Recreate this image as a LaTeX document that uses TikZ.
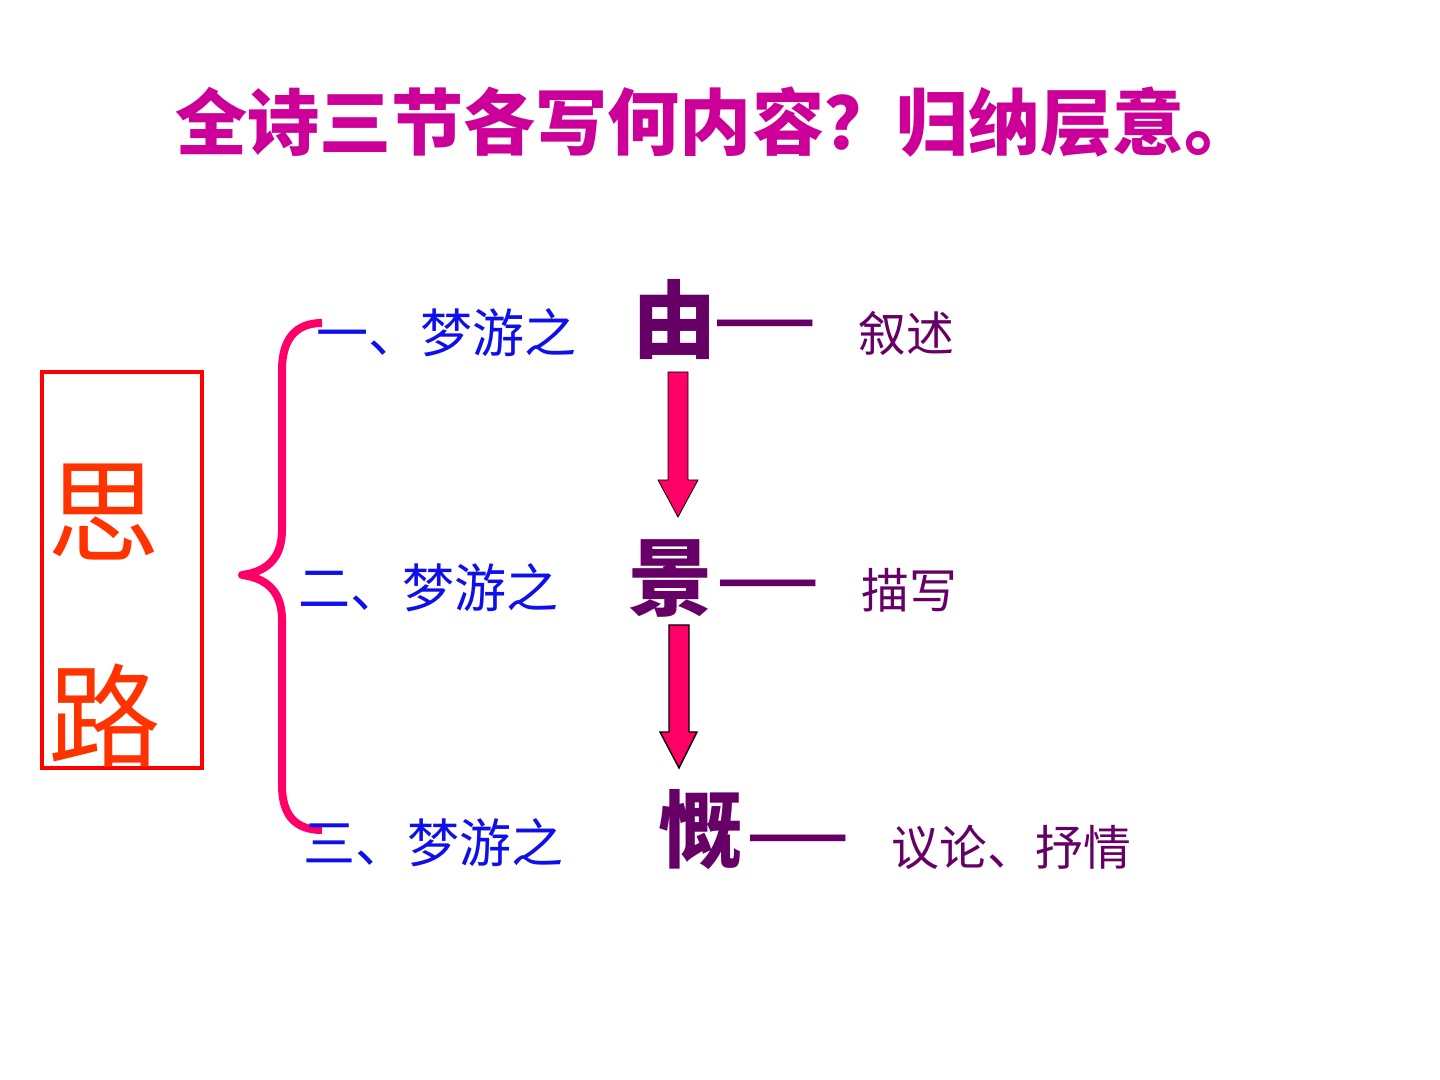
\documentclass[tikz,border=0pt]{standalone}
\usepackage{fontspec}
\newfontfamily\cjk{Noto Sans CJK SC}
\usetikzlibrary{arrows.meta}
\definecolor{titlec}{RGB}{204,0,153}
\definecolor{bluec}{RGB}{15,15,235}
\definecolor{purplec}{RGB}{102,0,102}
\definecolor{boxred}{RGB}{255,0,0}
\definecolor{sired}{RGB}{255,51,0}
\definecolor{pinkc}{RGB}{255,0,102}
\tikzset{
  fs/.style={font=\cjk\fontsize{#1}{#1}\selectfont},
  titlet/.style={fs=20.5pt, text=titlec, inner sep=0pt},
  rowt/.style={fs=14.8pt, text=bluec, inner sep=0pt, anchor=west},
  bigt/.style={fs=24pt, text=purplec, inner sep=0pt, anchor=west},
  dasht/.style={fs=16.8pt, text=purplec, inner sep=0pt, anchor=west},
  desct/.style={fs=13.6pt, text=purplec, inner sep=0pt, anchor=west},
  sit/.style={fs=32pt, text=sired, inner sep=0pt},
  blockarrow/.style={fill=pinkc},
}
\begin{document}
\begin{tikzpicture}[x=0.01cm,y=-0.01cm]
\useasboundingbox (0,0) rectangle (1440,1080);
% title
\node[titlet] (title) at (716,122) {\bfseries 全诗三节各写何内容？归纳层意。};
% box
\draw[boxred, line width=0.045cm] (42,372) rectangle (202,768);
\node[sit] (si) at (104,512) {思};
\node[sit] (lu) at (105,716) {路};
% brace
\draw[pinkc, line width=0.08cm, line join=round] (322,323) .. controls (295,323) and (282,340) .. (282,370)
  -- (282,530) .. controls (282,560) and (265,572) .. (242,575)
  .. controls (265,578) and (282,590) .. (282,620)
  -- (282,785) .. controls (282,815) and (295,830) .. (322,830);
% row 1
\node[rowt] (r1) at (316,333) {一、梦游之};
\node[bigt] (you) at (632,320) {\bfseries 由};
\node[dasht] (d1) at (714,330) {\bfseries ——};
\node[desct] (x1) at (858,333) {叙述};
% row 2
\node[rowt] (r2) at (298,588) {二、梦游之};
\node[bigt] (jing) at (628,578) {\bfseries 景};
\node[dasht] (d2) at (717,590) {\bfseries ——};
\node[desct] (x2) at (861,590) {描写};
% row 3
\node[rowt] (r3) at (303,843) {三、梦游之};
\node[bigt] (kai) at (658,830) {\bfseries 慨};
\node[dasht] (d3) at (747,845) {\bfseries ——};
\node[desct] (x3) at (891,847) {议论、抒情};
% arrows
\draw[blockarrow, draw=black, line width=0.008cm] (668,372) -- (688,372) -- (688,480) -- (698,480) -- (678,517) -- (658,480) -- (668,480) -- cycle;
\draw[blockarrow] (669,625) -- (689,625) -- (689,732) -- (697,732) -- (679,768) -- (660,732) -- (669,732) -- cycle;
\end{tikzpicture}
\end{document}
